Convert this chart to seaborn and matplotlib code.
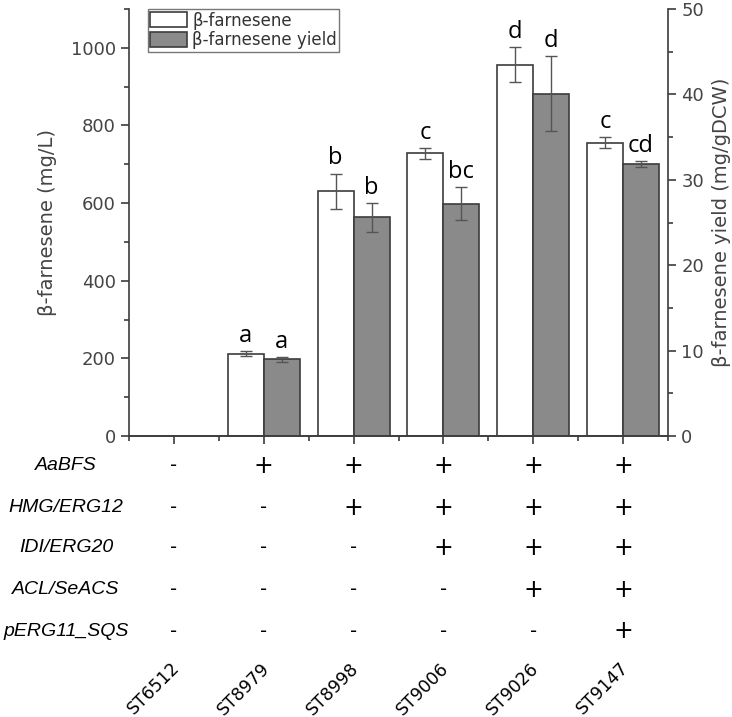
import numpy as np
import pandas as pd
import matplotlib
matplotlib.use('Agg')
import matplotlib.pyplot as plt
import matplotlib.transforms as mtransforms
from matplotlib.patches import Patch
from matplotlib.ticker import MultipleLocator
import seaborn as sns

# data
strains = ['ST6512', 'ST8979', 'ST8998', 'ST9006', 'ST9026', 'ST9147']
titer = [np.nan, 212, 630, 728, 956, 756]          # mg/L
titer_err = [np.nan, 7, 46, 14, 45, 14]
yld = [np.nan, 9.0, 25.6, 27.2, 40.1, 31.8]         # mg/gDCW
yld_err = [np.nan, 0.3, 1.7, 1.9, 4.4, 0.35]
titer_letters = ['', 'a', 'b', 'c', 'd', 'c']
yld_letters = ['', 'a', 'b', 'bc', 'd', 'cd']

genes = ['AaBFS', 'HMG/ERG12', 'IDI/ERG20', 'ACL/SeACS', 'pERG11_SQS']
table = [
    ['-', '+', '+', '+', '+', '+'],
    ['-', '-', '+', '+', '+', '+'],
    ['-', '-', '-', '+', '+', '+'],
    ['-', '-', '-', '-', '+', '+'],
    ['-', '-', '-', '-', '-', '+'],
]

series = ['β-farnesene', 'β-farnesene yield']
dark = '#3c3c3c'
gray = '#8a8a8a'

df1 = pd.DataFrame({'strain': strains, 'value': titer, 'series': series[0]}).dropna()
df2 = pd.DataFrame({'strain': strains, 'value': yld, 'series': series[1]}).dropna()

sns.set_style('ticks')
plt.rcParams['font.family'] = ['DejaVu Sans']

fig = plt.figure(figsize=(7.32, 7.17), dpi=100)
ax = fig.add_axes([129/732, 1-436/717, (668-129)/732, (436-9)/717])
ax2 = ax.twinx()

sns.barplot(data=df1, x='strain', y='value', hue='series', order=strains,
            hue_order=series, palette=['white', gray], edgecolor=dark,
            linewidth=1.2, errorbar=None, legend=False, dodge=True, ax=ax)
sns.barplot(data=df2, x='strain', y='value', hue='series', order=strains,
            hue_order=series, palette=['white', gray], edgecolor=dark,
            linewidth=1.2, errorbar=None, legend=False, dodge=True, ax=ax2)

def add_err(a, vals, errs, letters, off):
    for bar in a.patches:
        h = bar.get_height()
        if not np.isfinite(h):
            continue
        cx = bar.get_x() + bar.get_width()/2
        i = int(round(cx))
        a.errorbar(cx, vals[i], yerr=errs[i], color='#555555', capsize=4,
                   elinewidth=1, capthick=1, fmt='none', zorder=5)
        a.text(cx, vals[i] + errs[i] + off, letters[i], ha='center',
               va='bottom', fontsize=17, family='Open Sans', color='black')

add_err(ax, titer, titer_err, titer_letters, 8)
add_err(ax2, yld, yld_err, yld_letters, 0.35)

ax.set_xlim(-0.5, 5.5)
ax.set_ylim(0, 1100)
ax2.set_ylim(0, 50)
ax.yaxis.set_major_locator(MultipleLocator(200))
ax.yaxis.set_minor_locator(MultipleLocator(100))
ax2.yaxis.set_major_locator(MultipleLocator(10))
ax2.yaxis.set_minor_locator(MultipleLocator(5))
ax.set_xticks(range(len(strains)))
ax.set_xticks(np.arange(-0.5, 5.6, 1), minor=True)
ax.set_xticklabels([])
ax.set_xlabel('')
ax2.set_xlabel('')

for a in (ax, ax2):
    for s in a.spines.values():
        s.set_color(dark)
        s.set_linewidth(1.2)
    a.spines['top'].set_visible(False)
    a.tick_params(which='major', length=6, width=1.2, color=dark,
                  labelsize=13, labelcolor='#444444')
    a.tick_params(which='minor', length=3.5, width=1.2, color=dark)
ax.spines['right'].set_visible(False)
ax2.spines['left'].set_visible(False)

ax.set_ylabel('β-farnesene (mg/L)', fontsize=14, color='#444444', labelpad=10)
ax2.set_ylabel('β-farnesene yield (mg/gDCW)', fontsize=14, color='#444444',
               labelpad=6)

# table of genotypes under the axis
trans = mtransforms.blended_transform_factory(ax.transData, fig.transFigure)
row_y = [466, 508, 548, 590, 631]
for r, gene in enumerate(genes):
    fy = 1 - row_y[r]/717
    fig.text(66/732, fy, gene, ha='center', va='center', fontsize=14,
             style='italic', family='Liberation Sans', color='black')
    for i, mark in enumerate(table[r]):
        ax.text(i, fy, mark, transform=trans, ha='center', va='center',
                fontsize=17 if mark == '+' else 14, color='black', clip_on=False)

for i, s in enumerate(strains):
    ax.text(i - 0.04, 1 - 659/717, s, transform=trans, rotation=45,
            rotation_mode='anchor', ha='right', va='top', fontsize=12.5,
            color='black', clip_on=False)

handles = [Patch(facecolor='white', edgecolor=dark, linewidth=1.2),
           Patch(facecolor=gray, edgecolor=dark, linewidth=1.2)]
leg = ax2.legend(handles, series, loc='upper left',
                 bbox_to_anchor=(0.035, 1.0), fontsize=12, frameon=True,
                 fancybox=False, handlelength=2.2, handleheight=1.0,
                 labelspacing=0.1, borderpad=0.15, handletextpad=0.3,
                 borderaxespad=0)
leg.get_frame().set_edgecolor('#555555')
leg.get_frame().set_linewidth(1)
for t in leg.get_texts():
    t.set_color('#333333')

fig.savefig('out.png', dpi=100)
